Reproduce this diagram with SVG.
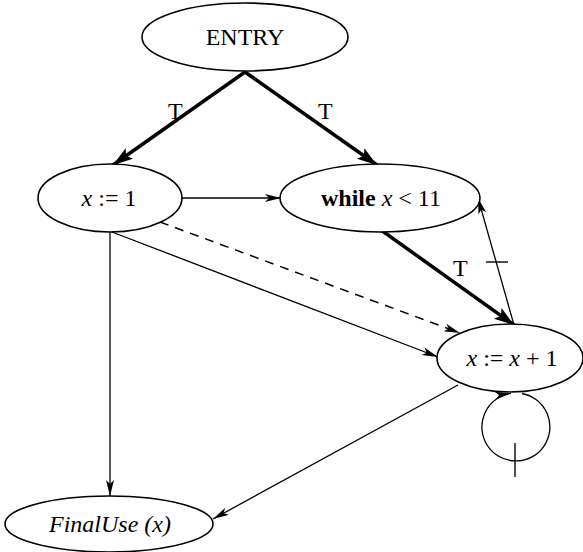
<svg xmlns="http://www.w3.org/2000/svg" width="583" height="552" viewBox="0 0 583 552">
<style>
.node{fill:#fff;stroke:#000;stroke-width:1.6}
.lbl{font-family:"Liberation Serif",serif;font-size:24px;fill:#000}
.it{font-style:italic}
.thin{stroke:#000;stroke-width:1.3;fill:none;marker-end:url(#ah)}
.thick{stroke:#000;stroke-width:3.5;fill:none;marker-end:url(#ahk)}
.dash{stroke:#000;stroke-width:1.5;fill:none;stroke-dasharray:9 7;marker-end:url(#ah)}
</style>
<defs>
<marker id="ah" markerUnits="userSpaceOnUse" markerWidth="20" markerHeight="12" refX="16" refY="5" orient="auto">
<path d="M0,1 L16,5 L0,9 L4,5 z" fill="#000"/>
</marker>
<marker id="ahk" markerUnits="userSpaceOnUse" markerWidth="24" markerHeight="14" refX="20" refY="6.5" orient="auto">
<path d="M0,0 L20,6.5 L0,13 L4,6.5 z" fill="#000"/>
</marker>
</defs>
<g id="connectors">
<line class="thick" x1="245" y1="72" x2="113" y2="165"/>
<line class="thick" x1="245" y1="72" x2="377" y2="165"/>
<line class="thin" x1="182" y1="198" x2="281" y2="198"/>
<line class="dash" x1="160" y1="222" x2="460" y2="333"/>
<line class="thin" x1="112" y1="232" x2="438" y2="357"/>
<line class="thin" x1="110" y1="232" x2="110" y2="496"/>
<line class="thick" x1="381" y1="230" x2="514" y2="325"/>
<line class="thin" x1="514" y1="325" x2="478" y2="198"/>
<line class="thin" x1="458" y1="385" x2="213" y2="519"/>
<path class="thin" d="M 522 393.5 A 34 34 0 1 1 511 393.3"/>
<line stroke="#000" stroke-width="1.4" x1="486" y1="262" x2="508" y2="262"/>
<line stroke="#000" stroke-width="1.4" x1="515" y1="443" x2="515" y2="477"/>
<text class="lbl" x="168" y="119">T</text>
<text class="lbl" x="318" y="119">T</text>
<text class="lbl" x="453" y="276">T</text>
</g>
<g id="entry">
<ellipse class="node" cx="245" cy="37" rx="103" ry="34"/>
<text class="lbl" x="245" y="45" text-anchor="middle">ENTRY</text>
</g>
<g id="x1">
<ellipse class="node" cx="110" cy="198" rx="72" ry="34"/>
<text class="lbl" x="109" y="206" text-anchor="middle"><tspan class="it">x</tspan> := 1</text>
</g>
<g id="while">
<ellipse class="node" cx="380" cy="198" rx="100" ry="34"/>
<text class="lbl" x="381" y="206" text-anchor="middle"><tspan font-weight="bold">while</tspan> <tspan class="it">x</tspan> &lt; 11</text>
</g>
<g id="inc">
<ellipse class="node" cx="510" cy="358" rx="73" ry="34"/>
<text class="lbl" x="512" y="366" text-anchor="middle"><tspan class="it">x</tspan> := <tspan class="it">x</tspan> + 1</text>
</g>
<g id="finaluse">
<ellipse class="node" cx="109" cy="524" rx="104" ry="28"/>
<text class="lbl it" x="110" y="532" text-anchor="middle" font-size="25">FinalUse (x)</text>
</g>
</svg>
